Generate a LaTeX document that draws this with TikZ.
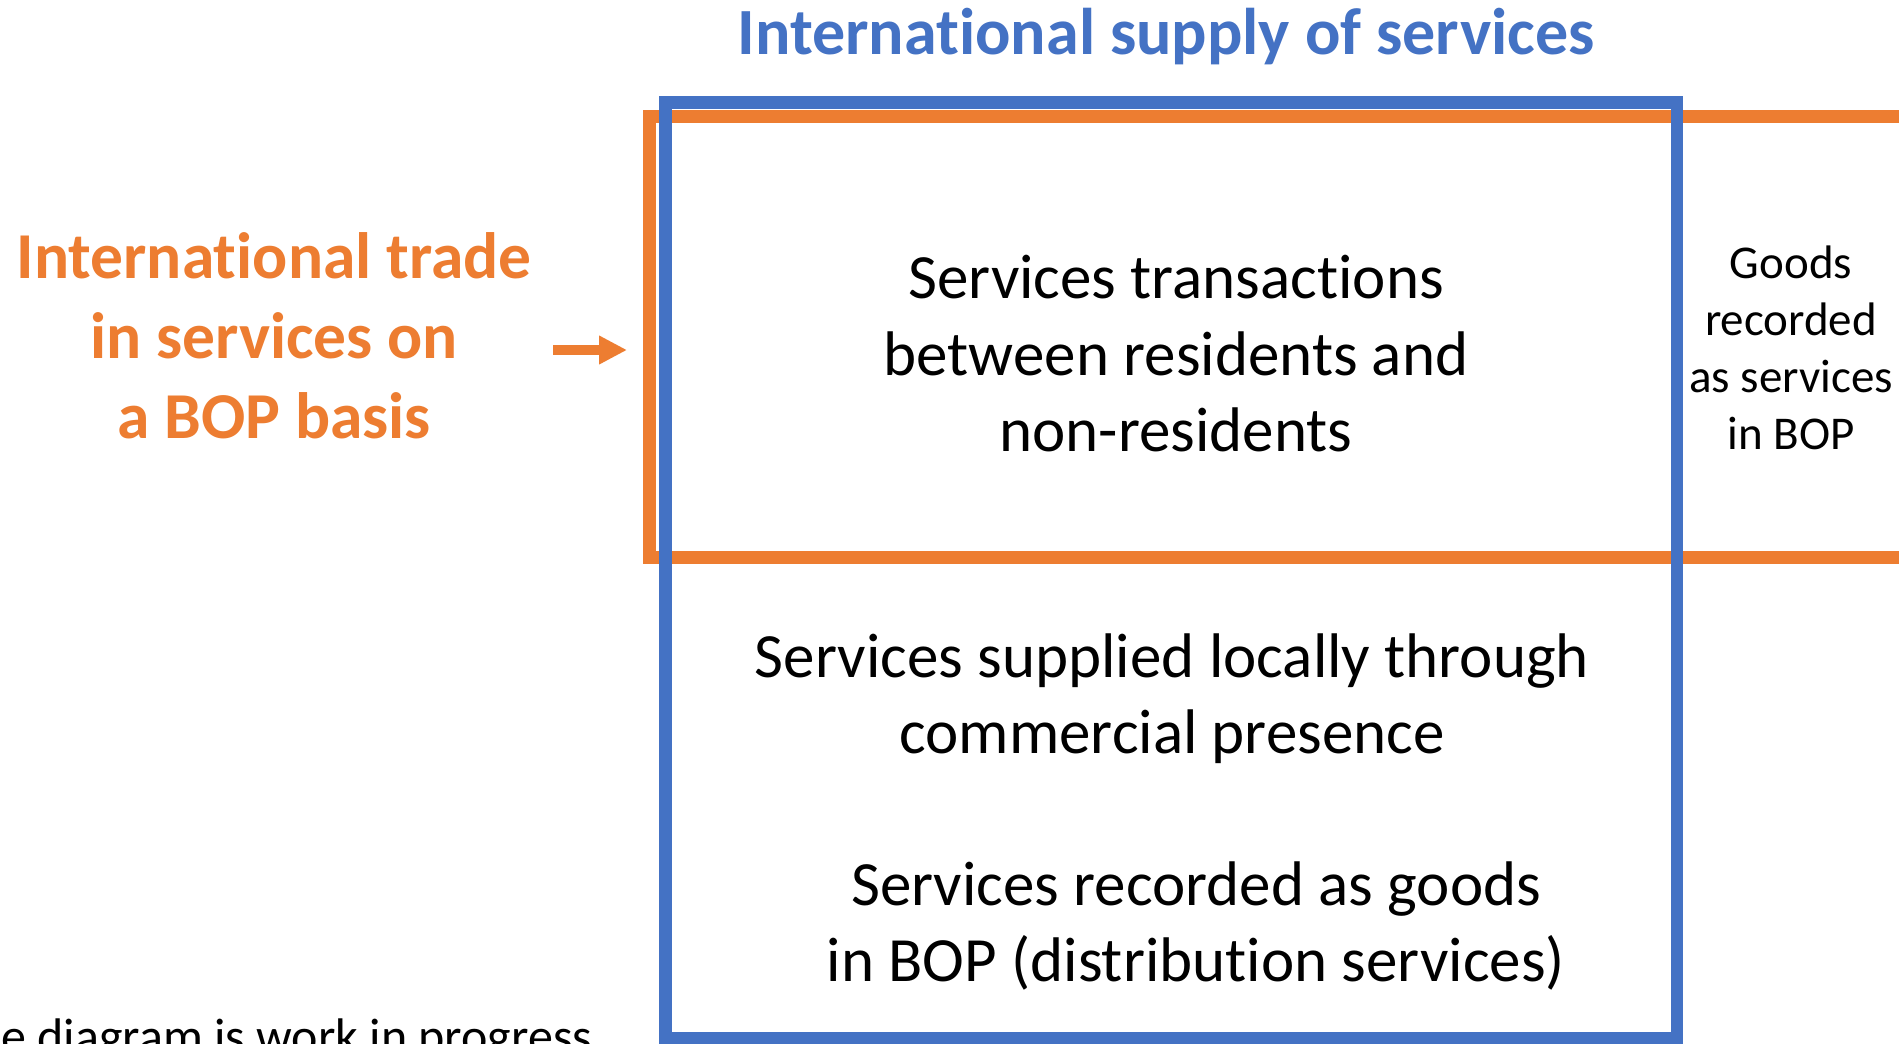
\documentclass[tikz,border=0pt]{standalone}
\usepackage{fontspec}
\setmainfont{Carlito}
\usetikzlibrary{arrows.meta}
\definecolor{offblue}{HTML}{4472C4}
\definecolor{offorange}{HTML}{ED7D31}
\newcommand{\tbrk}{t\kern0pt i}
\tikzset{
  frame/.style={line width=12.5pt},
  bigtxt/.style={align=center, inner sep=0pt, font=\fontsize{63}{76.5}\selectfont},
  sidetxt/.style={align=center, inner sep=0pt, font=\fontsize{47}{57}\selectfont},
  headtxt/.style={align=center, inner sep=0pt, text=offorange, font=\bfseries\fontsize{65.5}{80}\selectfont},
}
\begin{document}
\begin{tikzpicture}[x=1pt,y=-1pt]
\useasboundingbox (0,0) rectangle (1899,1044);
\clip (0,0) rectangle (1899,1044);
\fill[white] (0,0) rectangle (1899,1044);
% orange frame (BOP basis)
\draw[frame, offorange] (649.5,116.5) rectangle (1960,557.5);
% blue frame (international supply)
\draw[frame, offblue] (665.5,102.5) rectangle (1677,1038);
% title
\node[inner sep=0pt, text=offblue, font=\bfseries\fontsize{66}{79}\selectfont] (title) at (1166,37) {Interna\tbrk onal supply of services};
% left label
\node[headtxt] (bop) at (274,336) {Interna\tbrk onal trade\\in services on\\a BOP basis};
% arrow
\coordinate (arrS) at (553,350);
\coordinate (arrE) at (627,350);
\draw[offorange, line width=9.5pt, -{Triangle[length=28pt,width=27pt]}] (arrS) -- (arrE);
% texts
\node[bigtxt] (trans) at (1176,354) {Services transac\tbrk ons\\between residents and\\non-residents};
\node[bigtxt] (local) at (1172,698.5) {Services supplied locally through\\commercial presence};
\node[bigtxt] (goods) at (1196,926) {Services recorded as goods\\in BOP (distribu\tbrk on services)};
\node[sidetxt] (gserv) at (1791,348) {Goods\\recorded\\as services\\in BOP};
\node[anchor=base west, inner sep=0pt, font=\fontsize{50}{60}\selectfont] (note) at (1,1053) {e diagram is work in progress};
\end{tikzpicture}
\end{document}
